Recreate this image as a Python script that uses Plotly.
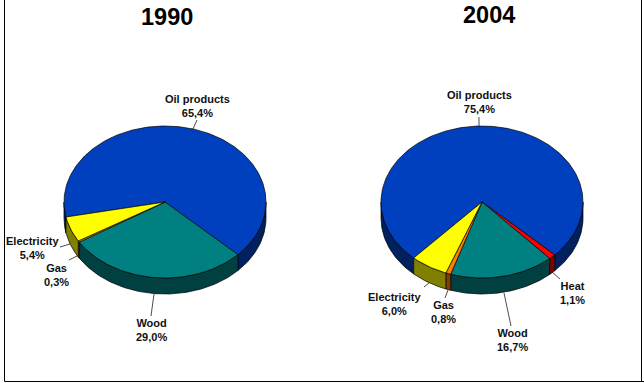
import numpy as np
import plotly.graph_objects as go

# ---- data ----
categories_1990 = ["Oil products", "Wood", "Gas", "Electricity"]
values_1990 = [65.4, 29.0, 0.3, 5.4]
categories_2004 = ["Oil products", "Heat", "Wood", "Gas", "Electricity"]
values_2004 = [75.4, 1.1, 16.7, 0.8, 6.0]
titles = ["1990", "2004"]

TOP = {"Oil products": "#0040BF", "Wood": "#008080", "Gas": "#FF8000",
       "Electricity": "#FFFF00", "Heat": "#FF0000"}
SIDE = {"Oil products": "#002060", "Wood": "#004040", "Gas": "#804000",
        "Electricity": "#808000", "Heat": "#800000"}

W, H = 644, 383
RX, RY, DEPTH = 101, 76, 16

# layout of each pie: centre, angle at which the first slice ends (clockwise from east)
pies = [
    dict(cx=165, cy=202, oil_end=43.8, title_x=167, title_y=17,
         cats=categories_1990, vals=values_1990,
         labels={"Oil products": (197, 106), "Electricity": (32, 248),
                 "Gas": (56, 275), "Wood": (151, 330)},
         leaders={"Oil products": ((193, 129), (197, 120)),
                  "Electricity": ((60, 247), (70, 244)),
                  "Gas": ((69, 260), (77, 256)),
                  "Wood": ((154, 294), (151, 316))}),
    dict(cx=482, cy=202, oil_end=44.0, title_x=489, title_y=15,
         cats=categories_2004, vals=values_2004,
         labels={"Oil products": (479, 102), "Electricity": (394, 304),
                 "Gas": (443, 312), "Wood": (512, 340), "Heat": (572, 293)},
         leaders={"Oil products": ((479, 126), (479, 117)),
                  "Electricity": ((424, 287), (429, 283)),
                  "Gas": ((445, 298), (448, 290)),
                  "Wood": ((504, 293), (511, 326)),
                  "Heat": ((552, 272), (560, 279))}),
]


def arc(cx, cy, a0, a1, dy=0.0):
    t = np.radians(np.linspace(a0, a1, max(2, int(abs(a1 - a0)) + 2)))
    return cx + RX * np.cos(t), cy + dy + RY * np.sin(t)


fig = go.Figure()


def poly(xs, ys, fill):
    fig.add_trace(go.Scatter(x=xs, y=ys, mode="lines", fill="toself", fillcolor=fill,
                             line=dict(color="#000000", width=0.7),
                             hoverinfo="skip", showlegend=False))


for p in pies:
    total = sum(p["vals"])
    sweeps = [v / total * 360 for v in p["vals"]]
    # first slice ends at oil_end, the others follow clockwise
    spans = []
    start = p["oil_end"] - sweeps[0]
    for cat, sw in zip(p["cats"], sweeps):
        spans.append((cat, start, start + sw))
        start += sw
    # side walls: only the front half (0..180 degrees) is visible
    for cat, a0, a1 in spans:
        for shift in (-360, 0, 360):
            lo, hi = max(a0 + shift, 0), min(a1 + shift, 180)
            if hi > lo:
                xt, yt = arc(p["cx"], p["cy"], lo, hi)
                xb, yb = arc(p["cx"], p["cy"], hi, lo, DEPTH)
                poly(list(xt) + list(xb) + [xt[0]], list(yt) + list(yb) + [yt[0]], SIDE[cat])
    # top faces
    for cat, a0, a1 in spans:
        x, y = arc(p["cx"], p["cy"], a0, a1)
        poly([p["cx"]] + list(x) + [p["cx"]], [p["cy"]] + list(y) + [p["cy"]], TOP[cat])
    # leader lines and labels
    for cat, val in zip(p["cats"], p["vals"]):
        (x0, y0), (x1, y1) = p["leaders"][cat]
        fig.add_trace(go.Scatter(x=[x0, x1], y=[y0, y1], mode="lines",
                                 line=dict(color="#000000", width=0.7),
                                 hoverinfo="skip", showlegend=False))
        lx, ly = p["labels"][cat]
        text = f"<b>{cat}<br>{val:.1f}%</b>".replace(".", ",")
        fig.add_annotation(x=lx, y=ly, text=text, showarrow=False, align="center",
                           xanchor="center", yanchor="middle",
                           font=dict(family="Liberation Sans", size=11, color="#101010"))

for t, p in zip(titles, pies):
    fig.add_annotation(x=p["title_x"], y=p["title_y"], text=f"<b>{t}</b>", showarrow=False,
                       xanchor="center", yanchor="middle",
                       font=dict(family="Liberation Sans", size=23.5, color="#000000"))

# frame
for x0, y0, x1, y1 in [(4.5, 0, 4.5, 381.5), (4.5, 381.5, 644, 381.5), (641.5, 0, 641.5, 381.5)]:
    fig.add_shape(type="line", x0=x0, y0=y0, x1=x1, y1=y1, line=dict(color="#000000", width=1))

fig.update_xaxes(range=[0, W], visible=False, fixedrange=True)
fig.update_yaxes(range=[H, 0], visible=False, fixedrange=True)
fig.update_layout(width=W, height=H, autosize=False, margin=dict(l=0, r=0, t=0, b=0),
                  paper_bgcolor="white", plot_bgcolor="white", showlegend=False)
fig.write_html("out.html", config={"displayModeBar": False},
               post_script="document.body.style.margin='0';document.body.style.overflow='hidden';")
